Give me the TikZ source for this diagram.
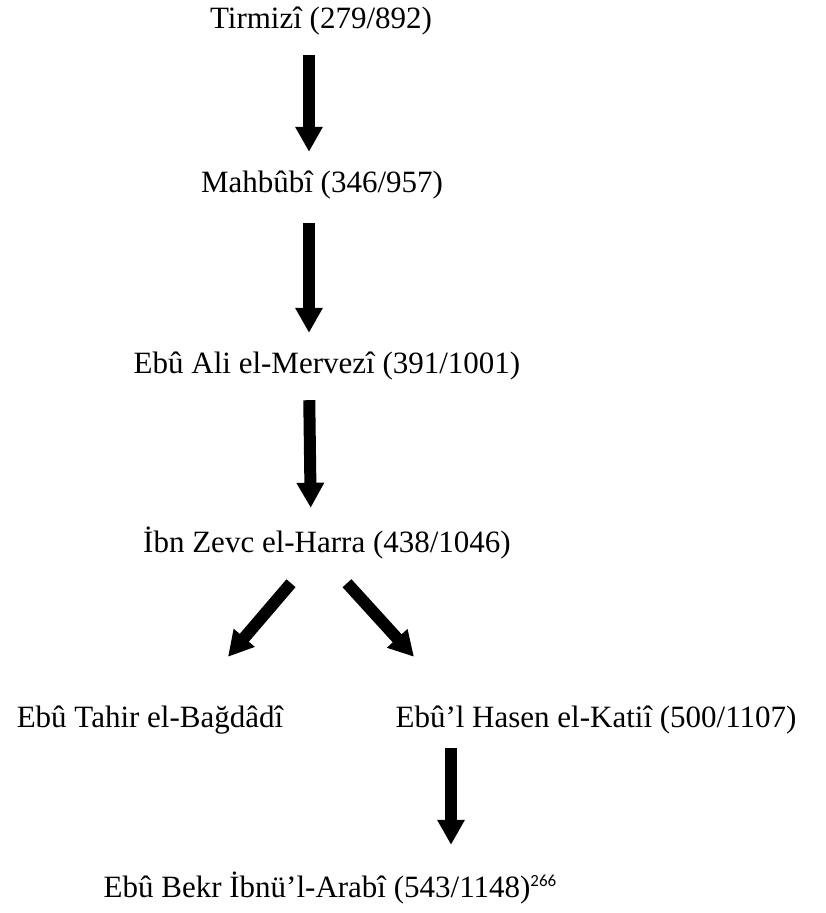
\documentclass[tikz,border=0pt]{standalone}
\usepackage{fontspec}
\setmainfont{Liberation Serif}
\newfontfamily\supfont{Carlito}
\usetikzlibrary{arrows.meta}
\begin{document}
\begin{tikzpicture}[x=1pt,y=-1pt,
    every node/.style={inner sep=0pt,anchor=base,text height=22pt,text depth=7pt,
      font=\fontsize{31}{37}\selectfont},
    chainarrow/.style={line width=12pt,-{Triangle[width=26pt,length=25pt]},
      shorten <=20pt,shorten >=18pt}]
  \useasboundingbox (0,0) rectangle (826,913);
  % isnad chain
  \node (tirmizi) at (321,28) {Tirmizî (279/892)};
  \node (mahbubi) at (322,192) {Mahbûbî (346/957)};
  \node (mervezi) at (327,373) {Ebû Ali el-Mervezî (391/1001)};
  \node (zevc) at (327,552) {İbn Zevc el-Harra (438/1046)};
  \node (tahir) at (150,727) {Ebû Tahir el-Bağdâdî};
  \node (katii) at (596,727) {Ebû’l Hasen el-Katiî (500/1107)};
  \node (bekr) at (330,897) {Ebû Bekr İbnü’l-Arabî (543/1148)\raisebox{11pt}{\supfont\fontsize{17}{20}\selectfont 266}};
  % arrows
  \draw [chainarrow] ([xshift=-12pt]tirmizi.south) -- ([xshift=-13pt]mahbubi.north);
  \draw [chainarrow, shorten <=24pt] ([xshift=-13pt]mahbubi.south) -- ([xshift=-18pt]mervezi.north);
  \draw [chainarrow, shorten >=22pt] ([xshift=-18pt]mervezi.south) -- ([xshift=-16pt]zevc.north);
  \draw [chainarrow, shorten <=0pt, shorten >=0pt] ([xshift=-36pt,yshift=-24pt]zevc.south) -- ([xshift=78pt,yshift=48pt]tahir.north);
  \draw [chainarrow, shorten <=0pt, shorten >=0pt] ([xshift=20pt,yshift=-24pt]zevc.south) -- ([xshift=-182pt,yshift=48pt]katii.north);
  \draw [chainarrow, shorten <=14pt, shorten >=30pt] ([xshift=-145pt]katii.south) -- ([xshift=121pt]bekr.north);
\end{tikzpicture}
\end{document}
